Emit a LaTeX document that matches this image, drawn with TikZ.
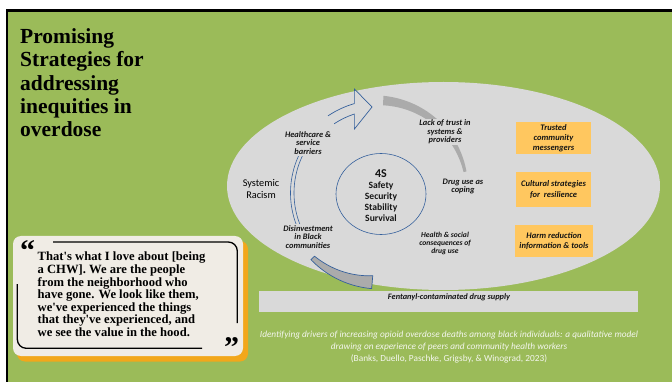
\documentclass[tikz,border=0pt]{standalone}
\usepackage{fontspec}
\setmainfont{Liberation Serif}
\newfontfamily\lab{Carlito}
\usetikzlibrary{shapes.geometric}
\definecolor{bggreen}{HTML}{9BBB59}
\definecolor{ellgray}{HTML}{D9D9D9}
\definecolor{arcgray}{HTML}{ABABAB}
\definecolor{cblue}{HTML}{35609C}
\definecolor{boxorange}{HTML}{FFC75F}
\definecolor{cream}{HTML}{F0ECE5}
\definecolor{shadoworange}{HTML}{F2A71B}
\definecolor{citecol}{HTML}{F4F6EE}
\definecolor{labtext}{HTML}{141414}
\begin{document}
\begin{tikzpicture}[x=1pt,y=-1pt,
  lbl/.style={font=\lab\bfseries\itshape\fontsize{8.4}{8.7}\selectfont, align=center, fill=ellgray, inner sep=1pt, text=labtext},
  obox/.style={fill=boxorange, inner sep=0pt, font=\lab\bfseries\itshape\fontsize{8.5}{10.2}\selectfont, align=center, text=labtext},
  bluearc/.style={draw=cblue, line width=0.7pt}]
\useasboundingbox (0,0) rectangle (672,382);
\fill[white] (0,0) rectangle (672,382);
\fill[bggreen] (7,10.5) rectangle (672,382);
\draw[line width=2.3pt] (7,382) -- (7,10.5) -- (672,10.5);

% big ellipse
\fill[ellgray] (443.5,186) ellipse [x radius=216.5pt, y radius=104pt];

% fentanyl box
\node[fill=ellgray, minimum width=379pt, minimum height=21pt, inner sep=0pt] (fent) at (448.5,301.5) {};
\node[font=\lab\bfseries\itshape\fontsize{8.3}{9}\selectfont, text=labtext, inner sep=0pt] (fenttxt) at (449,297.5) {Fentanyl-contaminated drug supply};

% title
\node[anchor=north west, align=left, inner sep=0pt, font=\bfseries\fontsize{21.5}{23.2}\selectfont] (title) at (20,28.5)
  {Promising\\Strategies for\\addressing\\inequities in\\overdose};

% quote box
\fill[shadoworange, rounded corners=8pt] (17,241) rectangle (248,361.5);
\node[fill=cream, rounded corners=8pt, minimum width=230pt, minimum height=120pt, inner sep=0pt] (qbox) at (128,296) {};
\draw[line width=1.3pt, rounded corners=9pt] (53,242) -- (237.3,242) -- (237.3,323);
\draw[line width=1.3pt, rounded corners=9pt] (17.3,284) -- (17.3,348.3) -- (202,348.3);
\node[font=\bfseries\fontsize{30}{30}\selectfont, inner sep=0pt, anchor=north] (lq) at (27.5,240) {“};
\node[font=\bfseries\fontsize{30}{30}\selectfont, inner sep=0pt, anchor=north] (rq) at (231.5,337) {”};
\node[anchor=north west, align=left, inner sep=0pt, font=\bfseries\fontsize{12.6}{10.8}\selectfont] (quote) at (37.5,252)
  {That\textquotesingle s what I love about [being\\a CHW]. We are the people\\from the neighborhood who\\have gone. We look like them,\\we\textquotesingle ve experienced the things\\that they\textquotesingle ve experienced, and\\we see the value in the hood.};

% citation
\node[align=center, inner sep=0pt, text=citecol, font=\lab\itshape\fontsize{9.3}{11.8}\selectfont] (cite) at (449,347)
  {Identifying drivers of increasing opioid overdose deaths among black individuals: a qualitative model\\drawing on experience of peers and community health workers\\\upshape (Banks, Duello, Paschke, Grigsby, \& Winograd, 2023)};

% top gray arc (tapered)
\fill[arcgray] plot[domain=14:88,samples=40,variable=\t] ({380+(89.1+8.15*(\t-14)/74)*cos(\t)},{193-(89.1+8.15*(\t-14)/74)*sin(\t)})
  -- plot[domain=88:14,samples=40,variable=\t] ({380+(86.1+1.65*(\t-14)/74)*cos(\t)},{193-(86.1+1.65*(\t-14)/74)*sin(\t)}) -- cycle;

% bottom gray arc with blue outline
\filldraw[fill=arcgray, bluearc] plot[domain=224:265,samples=30,variable=\t] ({380+96*cos(\t)},{193-96*sin(\t)})
  -- plot[domain=265:224,samples=30,variable=\t] ({380+(91-8*(\t-224)/41)*cos(\t)},{193-(91-8*(\t-224)/41)*sin(\t)}) -- cycle;

% arrow head with tails
\coordinate (tipA) at (354.4,89);
\coordinate (tip) at (372,107);
\coordinate (tipB) at (354.4,129);
\draw[bluearc, line join=miter] plot[domain=124:106,samples=20,variable=\t] ({380+93*cos(\t)},{193-93*sin(\t)})
  -- (tipA) -- (tip) -- (tipB)
  -- plot[domain=108:123.5,samples=20,variable=\t] ({380+83*cos(\t)},{193-83*sin(\t)});

% left double lines
\draw[bluearc, line width=0.6pt] plot[domain=150:203,samples=30,variable=\t] ({380+86*cos(\t)},{193-86*sin(\t)});
\draw[bluearc, line width=0.6pt] plot[domain=150:203,samples=30,variable=\t] ({380+89.5*cos(\t)},{193-89.5*sin(\t)});

% labels
\node[lbl] (hc) at (308,143) {Healthcare \&\\service\\barriers};
\node[lbl] (dis) at (308,237) {Disinvestment\\in Black\\communities};
\node[lbl] (lack) at (445,132) {Lack of trust in\\systems \&\\providers};
\node[lbl] (drug) at (463,186.5) {Drug use as\\coping};
\node[lbl, font=\lab\bfseries\itshape\fontsize{7.6}{8.4}\selectfont] (health) at (445,243.5) {Health \& social\\consequences of\\drug use};
\node[align=center, inner sep=0pt, text=black, font=\lab\fontsize{10.3}{12}\selectfont] (sr) at (261,189) {Systemic\\Racism};

% center circle
\node[draw=cblue, line width=0.6pt, ellipse, minimum width=90pt, minimum height=81pt, inner sep=0pt] (four) at (381,194) {};
\node[align=center, inner sep=0pt, text=labtext, font=\lab\bfseries\fontsize{9.6}{11}\selectfont] (fourtxt) at (381,195.5)
  {{\fontsize{12}{13}\selectfont 4S}\\Safety\\Security\\Stability\\Survival};

% orange boxes
\node[obox, minimum width=75pt, minimum height=32pt] (b1) at (553.5,138) {Trusted\\community\\messengers};
\node[obox, minimum width=75pt, minimum height=35pt] (b2) at (553.5,189.5) {Cultural strategies\\for\ \ resilience};
\node[obox, minimum width=78pt, minimum height=32pt] (b3) at (554,241) {Harm reduction\\information \& tools};
\end{tikzpicture}
\end{document}
